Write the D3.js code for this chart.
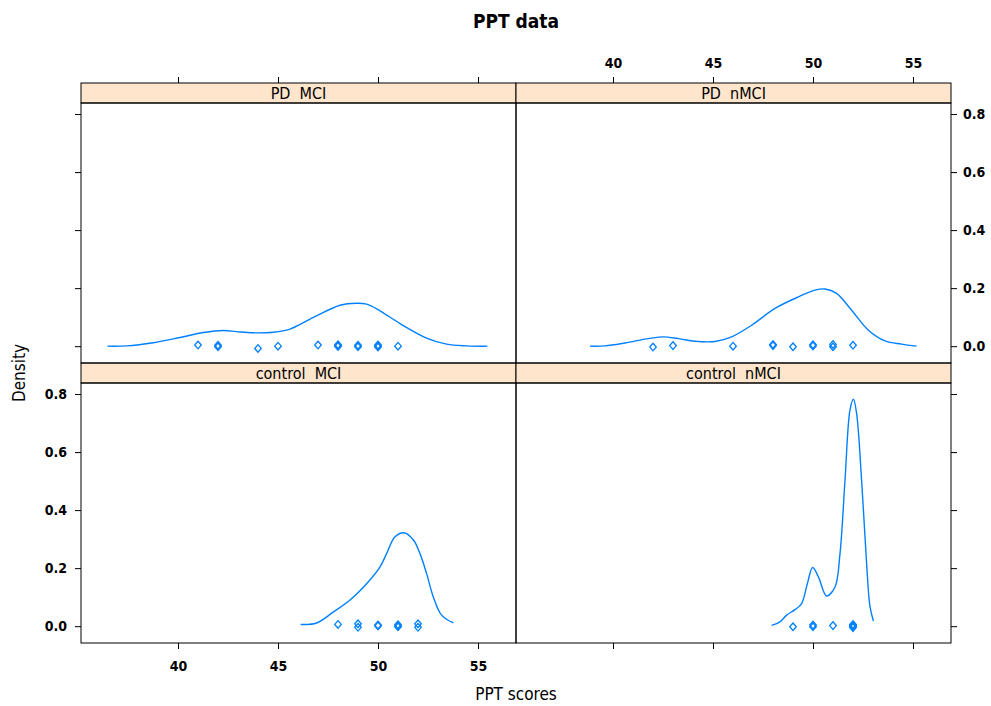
<!DOCTYPE html>
<html>
<head>
<meta charset="utf-8">
<script src="https://cdn.jsdelivr.net/npm/d3@7"></script>
<style>
  body { margin: 0; background: #fff; }
  svg text { font-family: "Liberation Sans Narrow", "DejaVu Sans Condensed", "Arial Narrow", sans-serif; }
</style>
</head>
<body>
<div id="chart"></div>
<script>
// panel names, in lattice order (bottom-left first)
const panelNames = ["control  MCI", "control  nMCI", "PD  MCI", "PD  nMCI"];
const xTicks = [40, 45, 50, 55];
const yTicks = [0, 0.2, 0.4, 0.6, 0.8];

// density curves: [score, density]
const densControlMCI = [[46.13,0.006],[46.93,0.011],[47.77,0.049],[48.6,0.09],[49.52,0.153],[50.1,0.204],[50.43,0.25],[50.85,0.308],[51.3,0.322],[51.77,0.297],[52.1,0.25],[52.43,0.181],[52.77,0.1],[53.18,0.038],[53.77,0.011]];
const densControlNMCI = [[47.93,0.003],[48.35,0.015],[48.68,0.038],[49.1,0.057],[49.43,0.078],[49.72,0.147],[49.98,0.202],[50.27,0.17],[50.68,0.104],[51.1,0.135],[51.35,0.25],[51.6,0.503],[51.85,0.745],[52.02,0.782],[52.18,0.733],[52.43,0.503],[52.68,0.216],[52.85,0.067],[53.02,0.018]];
const densPDMCI = [[36.47,0],[37.43,0.001],[38.77,0.012],[40.1,0.03],[41.27,0.047],[42.27,0.054],[42.93,0.05],[43.77,0.046],[44.77,0.048],[45.6,0.059],[46.77,0.099],[48.1,0.141],[48.93,0.148],[49.43,0.145],[50.1,0.122],[51.1,0.078],[52.43,0.028],[53.43,0.007],[54.43,0.001],[55.47,0]];
const densPDNMCI = [[38.85,0],[39.6,0.001],[40.6,0.011],[41.77,0.026],[42.52,0.032],[43.27,0.026],[44.1,0.017],[45.1,0.016],[45.93,0.032],[46.93,0.072],[48.1,0.13],[49.27,0.17],[50.1,0.193],[50.6,0.197],[51.18,0.182],[51.93,0.124],[52.77,0.055],[53.6,0.018],[54.43,0.007],[55.18,0]];

// raw scores (with the small vertical jitter seen in the picture)
const ptsControlMCI = [48, 49, 49, 50, 50, 51, 51, 51, 52, 52];
const jitControlMCI = [0.006, 0.008, -0.004, 0.004, 0.001, 0.005, 0.001, -0.002, 0.008, -0.004];
const ptsControlNMCI = [49, 50, 50, 51, 52, 52, 52, 52];
const jitControlNMCI = [-0.002, 0.004, -0.002, 0.002, 0.006, 0.002, -0.002, -0.005];
const ptsPDMCI = [41, 42, 42, 44, 45, 47, 48, 48, 48, 49, 49, 50, 50, 50, 51];
const jitPDMCI = [0.004, 0.003, -0.002, -0.008, 0, 0.004, 0.005, 0.002, -0.001, 0.003, -0.002, 0.004, 0.001, -0.003, 0];
const ptsPDNMCI = [42, 43, 46, 48, 48, 49, 50, 50, 51, 51, 52];
const jitPDNMCI = [-0.003, 0.002, 0, 0.006, 0.002, -0.002, 0.005, 0.001, 0.006, -0.002, 0.003];

const panels = [
  {name: panelNames[0], dens: densControlMCI, pts: ptsControlMCI, jit: jitControlMCI, col: 0, row: 1},
  {name: panelNames[1], dens: densControlNMCI, pts: ptsControlNMCI, jit: jitControlNMCI, col: 1, row: 1},
  {name: panelNames[2], dens: densPDMCI, pts: ptsPDMCI, jit: jitPDMCI, col: 0, row: 0},
  {name: panelNames[3], dens: densPDNMCI, pts: ptsPDNMCI, jit: jitPDNMCI, col: 1, row: 0}
];

const W = 991, H = 706;
const leftX = 81, topY = 83;
const panelW = 435, panelH = 260, stripH = 20;
const lineCol = "#0080ff";

const svg = d3.select("#chart")
  .append("svg")
  .attr("width", W)
  .attr("height", H);

const x = d3.scaleLinear().domain([35.15, 56.9]).range([0, panelW]);
const y = d3.scaleLinear().domain([-0.058, 0.838]).range([panelH, 0]);

const line = d3.line()
  .x(d => x(d[0]))
  .y(d => y(d[1]))
  .curve(d3.curveCatmullRom);

const diamond = "M0,-3.8L3.3,0L0,3.8L-3.3,0Z";

panels.forEach(p => {
  const px = leftX + p.col * panelW;
  const py = topY + p.row * (panelH + stripH);
  const g = svg.append("g").attr("transform", `translate(${px},${py})`);

  // strip
  g.append("rect")
    .attr("x", 0).attr("y", 0)
    .attr("width", panelW).attr("height", stripH)
    .attr("fill", "#ffe5cc")
    .attr("stroke", "#000").attr("stroke-width", 1);
  g.append("text")
    .attr("x", panelW / 2).attr("y", stripH / 2 + 6)
    .attr("text-anchor", "middle")
    .style("font-size", "16px")
    .style("white-space", "pre")
    .attr("xml:space", "preserve")
    .text(p.name);

  const pg = g.append("g").attr("transform", `translate(0,${stripH})`);

  // curve
  pg.append("path")
    .datum(p.dens)
    .attr("fill", "none")
    .attr("stroke", lineCol)
    .attr("stroke-width", 1.4)
    .attr("d", line);

  // points
  pg.selectAll(".pt")
    .data(p.pts.map((v, i) => [v, p.jit[i]]))
    .enter()
    .append("path")
    .attr("class", "pt")
    .attr("transform", d => `translate(${x(d[0])},${y(d[1])})`)
    .attr("d", diamond)
    .attr("fill", "none")
    .attr("stroke", lineCol)
    .attr("stroke-width", 1.3);

  // panel border
  pg.append("rect")
    .attr("x", 0).attr("y", 0)
    .attr("width", panelW).attr("height", panelH)
    .attr("fill", "none")
    .attr("stroke", "#000").attr("stroke-width", 1);

  // axes, alternating like lattice
  if (p.row === 0) {
    const ax = g.append("g").call(d3.axisTop(x).tickValues(xTicks).tickSize(6).tickPadding(9)
      .tickFormat(p.col === 1 ? d3.format("d") : () => ""));
    ax.select(".domain").remove();
  }
  if (p.row === 1) {
    const ax = pg.append("g").attr("transform", `translate(0,${panelH})`)
      .call(d3.axisBottom(x).tickValues(xTicks).tickSize(6).tickPadding(12)
      .tickFormat(p.col === 0 ? d3.format("d") : () => ""));
    ax.select(".domain").remove();
  }
  if (p.col === 0) {
    const ax = pg.append("g").call(d3.axisLeft(y).tickValues(yTicks).tickSize(6).tickPadding(8)
      .tickFormat(p.row === 1 ? d3.format(".1f") : () => ""));
    ax.select(".domain").remove();
  }
  if (p.col === 1) {
    const ax = pg.append("g").attr("transform", `translate(${panelW},0)`)
      .call(d3.axisRight(y).tickValues(yTicks).tickSize(6).tickPadding(6)
      .tickFormat(p.row === 0 ? d3.format(".1f") : () => ""));
    ax.select(".domain").remove();
  }
});

svg.selectAll(".tick line").attr("stroke", "#000");
svg.selectAll(".tick text")
  .attr("fill", "#000")
  .style("font-size", "14px")
  .style("font-weight", "bold");

// title
svg.append("text")
  .attr("x", leftX + panelW)
  .attr("y", 28)
  .attr("text-anchor", "middle")
  .style("font-size", "19px")
  .style("font-weight", "bold")
  .text("PPT data");

// x label
svg.append("text")
  .attr("x", leftX + panelW)
  .attr("y", 700)
  .attr("text-anchor", "middle")
  .style("font-size", "17px")
  .text("PPT scores");

// y label
svg.append("text")
  .attr("transform", `translate(25,${topY + stripH + panelH + 10}) rotate(-90)`)
  .attr("text-anchor", "middle")
  .style("font-size", "17px")
  .text("Density");
</script>
</body>
</html>
